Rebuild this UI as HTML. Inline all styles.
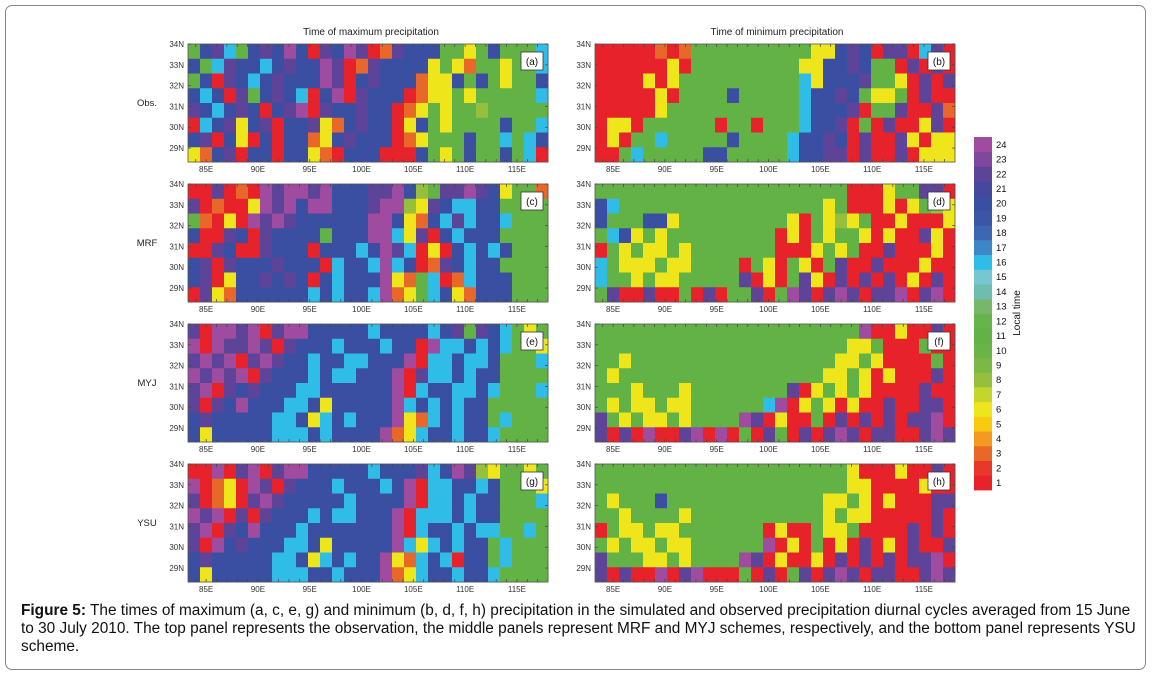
<!DOCTYPE html>
<html><head><meta charset="utf-8">
<style>
html,body{margin:0;padding:0;background:#fff;}
body{width:1152px;height:677px;position:relative;overflow:hidden;font-family:"Liberation Sans",Arial,sans-serif;}
#frame{position:absolute;left:5px;top:5px;width:1141px;height:665px;border:1px solid #888;border-radius:7px;box-sizing:border-box;}
#caption{position:absolute;left:21px;top:602px;width:1125px;font-size:15.4px;line-height:18px;color:#111;white-space:nowrap;}
</style></head>
<body>
<div id="frame"></div>
<svg id="fig" width="1152" height="600" style="position:absolute;left:0;top:0" xmlns="http://www.w3.org/2000/svg"></svg>
<div id="caption"><b>Figure 5:</b> The times of maximum (a, c, e, g) and minimum (b, d, f, h) precipitation in the simulated and observed precipitation diurnal cycles averaged from 15 June<br>to 30 July 2010. The top panel represents the observation, the middle panels represent MRF and MYJ schemes, respectively, and the bottom panel represents YSU<br>scheme.</div>
<script>
// colour scale (hour -> colour)
const hours = [1,2,3,4,5,6,7,8,9,10,11,12,13,14,15,16,17,18,19,20,21,22,23,24];
const hourColors = ["#e8222a","#e8382c","#e8682a","#f39a21","#f7ca10","#eee51a","#c4d52b","#95bf3d","#7ab946","#68b447","#63b245","#66b54a","#78b66a","#6fbdae","#78c6d1","#2fbde8","#3e87c6","#3e67b2","#3c56a6","#3a4fa2","#46489d","#5d4499","#7f479e","#9f4ca0"];
// letter codes for hours in the grids
const codeHour = {R:1,O:3,Y:6,L:8,G:11,T:14,C:16,D:19,B:20,P:22,M:24};
const xTicks = [85,90,95,100,105,110,115];
const yTicks = [29,30,31,32,33,34];
const panelLabels = ["(a)","(b)","(c)","(d)","(e)","(f)","(g)","(h)"];
const rowLabels = ["Obs.","MRF","MYJ","YSU"];
const colTitles = ["Time of maximum precipitation","Time of minimum precipitation"];
// estimated hour grids per panel (rows top->bottom, 30 columns west->east)
const gridA = ["GBPCGBPBMBRPBMPROPBBBGGYGBGGGC","BGCPBBCBPBBMPROPBBBBYGYOGGYGGC","GBRPBCBPBBBMPRBPBBBOYYBGBGYGGB","BCBRPGBPBCRBMRPBBBROYYGYGGGGGC","PBCBPBRBPMRPBBPBBROYGYGGLGGGGG","RCBPYBPRBBPYOBPBBRYBGYGGGGBGGC","BPRBYRBRBBOYBPBBBROYGGGBGGCGCB","YOBPRBBRBBYORBBBRRRBGYGBGGBGCR"];
const gridB = ["RRRRROROGGGGGGGGGGYYBPBRPPRCPR","RRRRRRYRGGGGGGGGGYYBBPBGGRPRPR","RRRRYRYGGGGGGGGGGCYBBBPGGYRPRP","RRRRRYRGGGGBGGGGGCBBPBGYYGRPRR","RRRRRYGGGGGGGGGGGCBBBPRGGPRRPO","RYYRGGGGGGRGGRGGGCBBPRGRPRRYPR","RYRGGCGGGGGBGGGGCBBPBRPRRPYRYY","RRGCGGGGGBBGGGGGCBBPPRPRRPRYYY"];
const gridC = ["RRPRORMPMMPMBBBPPMBLGPPMPBYGGO","PRORRYMPMBMMBBBPMMLYPBCCBBGGGG","GORYRMPMPBBBBBBMMBYOBCPCBBCGGG","BRRPBRPBBBBGBBBMMCYPRBCBBBGGGG","RRPBRRPBBBRBBBCBMPCRYRBCBCBGGG","BPRPBBBPBBBRCBBCMCBROPBCBBGGGG","BPRYBBPBPBRBCBBBMYOGCROCBBBGGG","RPYOBBBBBBCBCBBCMOYGCBYOBBBGGG"];
const gridD = ["GGGGGGGGGGGGGGGGGGGGGRRRYGGPPR","BCGGGGGGGGGGGGGGGGGYGRRRYRYGLY","BGGGBBYGGGGGGGGGYRGYLYGRRYRRRY","GCBYGYGGGGGGGGGRYRGYGGYRYRRPYR","RGYGYYGYGGGGGGGRRRYGYGRRPRRRYR","CGYYYGYYGGGGRGYRGYRGPRRPRRRYRR","CGGYGYYGGGGGPRYRGPYRPRPRPRYRPR","GPRRPRRGRPRGGPRGMPRPMPRPPMRPMR"];
const gridE = ["PRMMPMRPMMBBBBBCBBBBCBPGPBCGYG","MRMPPMPRPBBBCBBBCBBRMCCBCBCGGY","PMPMRPMPBBCBBCCBBBMRCCBCCBGGGC","MPMPMRPBBBCBCCBBBMRPCCBCBBGGGG","PMRPBPBBBCCBBBBBBMRCBBCCBCGGGC","PRPBMBBBCCBYBBBBBMCBCBCBBGGGGG","BPBBBBBCCBYCBCBBBMYOCBCBBGCGGG","BYBBBBBCCCBCBBBBMOYCBBCBBCGGGG"];
const gridF = ["GGGGGGGGGGGGGGGGGGGGGGMRRYRRPR","GGGGGGGGGGGGGGGGGGGGGYYGRRRGRR","GGYGGGGGGGGGGGGGGGGGYYGYRRRRGR","GYGGGGGGGGGGGGGGGGGYYGYRYRRRPR","GGGYGGGYGGGGGGGGPRYGYGYRRRRPRR","GYGYYGYYGGGGGGCMRYGYRYRRPRRPPR","PGYGYYGYGGGGMPRYRRGRPRPRPRPPMR","PRPRMRRPMRMRGRPGRPRPMPRPPRRPMP"];
const gridG = ["RRMRPMRPMMBBBBBCBBBPCBMPLYGGYG","MROYRMPRPBBBCBBBCBMRCCBBCBGGGY","PROYRPMPBBBBBCBBBBMRCCBCBBGGGC","MPMRPRPBBBCBCCBBBMRCCCBCBBGGGG","PMRPBMBBBCBBBBBBBMRCBBCBCCGGCG","PRMBPBBBCCBYBBBBBMCYCBCBBGCGGG","BPBBBBBCCBYCBCBBMYOCBCRBBGCGGG","BYBBBBBCCCBBCBBBMOYCBBCBBCGGGG"];
const gridH = ["GGGGGGGGGGGGGGGGGGGGGYRRRYRRPR","GGGGGGGGGGGGGGGGGGGGGYYRRRRYRR","GYGGGBGGGGGGGGGGGGGYYGYRYRRRPP","GGYGGGGYGGGGGGGGGGGYGYYRRRRRPR","RGYYGYYGGGGGGGRYRRGYYGRRRRPRPR","GYGYYGYYGGGGGGMRYRGRYRPRYRPRRP","PGGGYYGYGGGGMPRYRRYRPRPRPRPPMR","PRPRRMRPMRRRGRPRGPRPMPRPPRRPMP"];

const grids = [gridA,gridB,gridC,gridD,gridE,gridF,gridG,gridH];
const NS="http://www.w3.org/2000/svg";
const svg=document.getElementById('fig');
function mk(tag,attrs,parent){const e=document.createElementNS(NS,tag);for(const k in attrs)e.setAttribute(k,attrs[k]);(parent||svg).appendChild(e);return e;}
const LON0=83.25,LON1=118,LAT0=28.33,LAT1=34;
const PW=360,PH=118;
const panelX=[188,595];
const panelY=[44,184,324,464];
function colorOf(h){return hourColors[hours.indexOf(h)];}

for(let p=0;p<8;p++){
  const col=p%2,row=Math.floor(p/2);
  const x0=panelX[col],y0=panelY[row];
  const xs=lon=>x0+(lon-LON0)/(LON1-LON0)*PW;
  const ys=lat=>y0+(LAT1-lat)/(LAT1-LAT0)*PH;
  const g=mk('g',{});
  
  
  const grid=grids[p];
  const nr=grid.length,nc=grid[0].length;
  const dLon=(LON1-LON0)/nc,dLat=(LAT1-LAT0)/nr;
  for(let r=0;r<nr;r++){
    for(let c=0;c<nc;c++){
      const h=codeHour[grid[r][c]];
      const xa=xs(LON0+c*dLon),xb=xs(LON0+(c+1)*dLon);
      const ya=ys(LAT1-r*dLat),yb=ys(LAT1-(r+1)*dLat);
      const cell=mk('rect',{x:xa,y:ya,width:xb-xa+0.5,height:yb-ya+0.5,fill:colorOf(h)},g);
      
      
    }
  }
  mk('rect',{x:x0,y:y0,width:PW,height:PH,fill:'none',stroke:'#555','stroke-width':0.8},g);
  for(let lon=84;lon<=117;lon++){
    const x=xs(lon);
    mk('line',{x1:x,x2:x,y1:y0,y2:y0+3,stroke:'#444','stroke-width':0.7},g);
    mk('line',{x1:x,x2:x,y1:y0+PH,y2:y0+PH-3,stroke:'#444','stroke-width':0.7},g);
  }
  xTicks.forEach(lon=>{
    const t=mk('text',{x:xs(lon),y:y0+PH+10,'font-size':8,'text-anchor':'middle',fill:'#333'},g);
    t.textContent=lon+'E';
    
    
  });
  yTicks.forEach(lat=>{
    const y=ys(lat);
    mk('line',{x1:x0,x2:x0+3,y1:y,y2:y,stroke:'#444','stroke-width':0.7},g);
    mk('line',{x1:x0+PW,x2:x0+PW-3,y1:y,y2:y,stroke:'#444','stroke-width':0.7},g);
    const t=mk('text',{x:x0-4,y:y+3,'font-size':8,'text-anchor':'end',fill:'#333'},g);
    t.textContent=lat+'N';
    
    
  });
  mk('rect',{x:x0+PW-27,y:y0+8,width:22,height:18,fill:'#fff',stroke:'#333','stroke-width':0.8},g);
  const lb=mk('text',{x:x0+PW-16,y:y0+21,'font-size':10,'text-anchor':'middle',fill:'#111'},g);
  lb.textContent=panelLabels[p];
  
  
}
rowLabels.forEach((s,i)=>{
  const t=mk('text',{x:147,y:panelY[i]+62,'font-size':9.5,'text-anchor':'middle',fill:'#222'});
  t.textContent=s;
  
  
});
colTitles.forEach((s,i)=>{
  const t=mk('text',{x:panelX[i]+PW/2+(i?2:3),y:35,'font-size':10,'text-anchor':'middle',fill:'#222'});
  t.textContent=s;
  
  
});
// colour bar
const CB={x:974,y:137,w:18,h:353};
const cb=mk('g',{});


const seg=CB.h/hours.length;
hours.forEach((h,i)=>{
  const y=CB.y+CB.h-(i+1)*seg;
  const r=mk('rect',{x:CB.x,y:y,width:CB.w,height:seg+0.4,fill:hourColors[i]},cb);
  
  
  const t=mk('text',{x:CB.x+CB.w+4,y:y+seg/2+3.5,'font-size':9.5,fill:'#111'},cb);
  t.textContent=h;
  
  
});
const lt=mk('text',{x:0,y:0,'font-size':10,'text-anchor':'middle',fill:'#111',transform:'translate(1020,313) rotate(-90)'},cb);
lt.textContent='Local time';


</script>
</body></html>
